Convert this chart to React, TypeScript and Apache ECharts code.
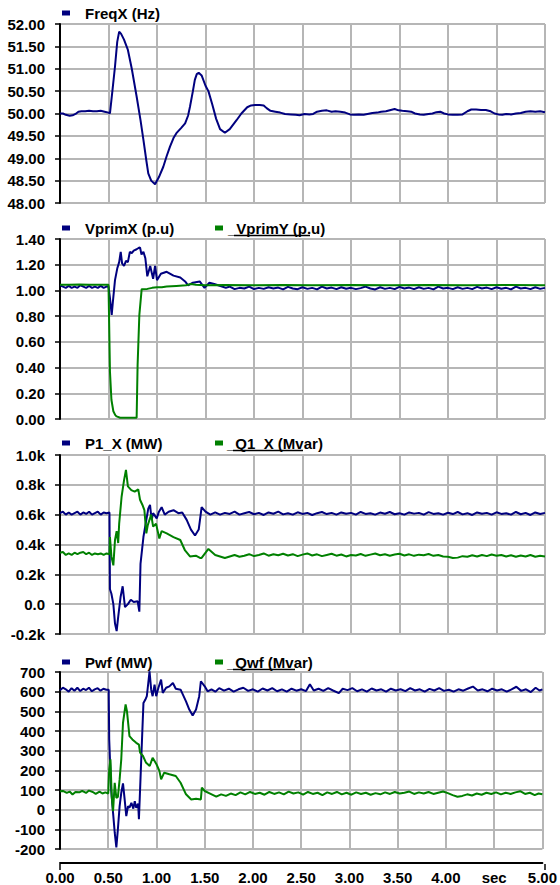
import React, { useEffect, useRef } from 'react';
import * as echarts from 'echarts';

// ---------- data (time in sec, value) ----------
const freqX: [number, number][] = [
  [0, 50.0], [0.03, 50.0], [0.06, 49.97], [0.1, 49.95], [0.13, 49.96], [0.16, 49.99], [0.19, 50.04], [0.22, 50.05], [0.26, 50.05], [0.3, 50.06], [0.34, 50.05], [0.38, 50.05], [0.42, 50.06], [0.46, 50.04], [0.5, 50.02], [0.515, 50.0],
  [0.54, 50.5], [0.567, 51.05], [0.59, 51.6], [0.61, 51.83], [0.63, 51.78], [0.66, 51.65], [0.7, 51.42], [0.74, 51.0], [0.79, 50.38], [0.83, 49.85], [0.86, 49.41], [0.89, 48.95], [0.91, 48.66], [0.94, 48.5], [0.98, 48.42],
  [1.02, 48.58], [1.065, 48.81], [1.1, 49.05], [1.134, 49.26], [1.17, 49.45], [1.2, 49.56], [1.25, 49.68], [1.29, 49.78], [1.32, 49.95], [1.34, 50.15], [1.37, 50.5], [1.39, 50.75], [1.41, 50.88], [1.43, 50.91], [1.46, 50.85], [1.5, 50.62], [1.53, 50.5], [1.57, 50.2], [1.61, 49.88], [1.65, 49.65], [1.7, 49.57], [1.75, 49.65], [1.82, 49.85], [1.87, 50.0], [1.93, 50.14], [1.97, 50.18], [2.01, 50.19], [2.06, 50.19], [2.1, 50.18], [2.13, 50.12], [2.17, 50.06], [2.22, 50.04], [2.27, 50.02],
  [2.32, 49.99], [2.38, 49.98], [2.43, 49.97], [2.47, 49.96], [2.52, 49.99], [2.57, 49.98], [2.61, 49.99], [2.65, 50.04], [2.7, 50.06], [2.75, 50.07], [2.8, 50.04], [2.84, 50.05], [2.89, 50.04], [2.94, 50.02], [2.99, 49.98], [3.03, 49.97], [3.08, 49.98], [3.13, 49.97], [3.17, 49.99], [3.22, 50.01], [3.27, 50.02], [3.31, 50.04], [3.36, 50.05], [3.41, 50.08], [3.45, 50.1], [3.49, 50.07], [3.53, 50.06], [3.58, 50.05], [3.62, 50.04], [3.66, 50.0], [3.71, 49.98], [3.75, 49.97], [3.8, 49.99], [3.84, 50.0], [3.88, 50.03], [3.92, 50.04], [3.96, 50.0], [4.0, 49.98], [4.05, 49.97], [4.1, 49.97], [4.15, 49.98], [4.2, 50.05], [4.24, 50.09], [4.29, 50.09], [4.34, 50.08], [4.39, 50.08], [4.44, 50.05], [4.48, 50.0], [4.52, 49.98], [4.56, 49.97], [4.6, 49.99], [4.65, 49.98], [4.7, 50.0], [4.75, 50.01], [4.8, 50.04], [4.85, 50.05], [4.9, 50.04], [4.95, 50.05], [5.0, 50.03],
];

const vprimX: [number, number][] = [
  [0, 1.04], [0.03, 1.03], [0.06, 1.02], [0.09, 1.035], [0.12, 1.02], [0.15, 1.03], [0.18, 1.02], [0.21, 1.04], [0.24, 1.03], [0.27, 1.02], [0.3, 1.035], [0.33, 1.02], [0.36, 1.03], [0.39, 1.02], [0.42, 1.035], [0.45, 1.02], [0.48, 1.03], [0.5, 1.03],
  [0.515, 0.94], [0.533, 0.81], [0.545, 0.91], [0.567, 1.08], [0.59, 1.17], [0.61, 1.22], [0.626, 1.3], [0.64, 1.21], [0.66, 1.19], [0.68, 1.23], [0.7, 1.22], [0.72, 1.3], [0.74, 1.29], [0.76, 1.31], [0.79, 1.32], [0.81, 1.33], [0.825, 1.335], [0.84, 1.28], [0.86, 1.3], [0.88, 1.25], [0.9, 1.11], [0.93, 1.19], [0.96, 1.09], [0.98, 1.19], [1.0, 1.08], [1.04, 1.13], [1.1, 1.145], [1.17, 1.115], [1.24, 1.1], [1.29, 1.07], [1.32, 1.04], [1.37, 1.06], [1.44, 1.07], [1.49, 1.02], [1.54, 1.06], [1.59, 1.05], [1.63, 1.04], [1.67, 1.03], [1.71, 1.02],
  [1.75, 1.03], [1.8, 1.01], [1.85, 1.02], [1.9, 1.015], [1.95, 1.03], [2.0, 1.01], [2.05, 1.02], [2.1, 1.012], [2.15, 1.025], [2.2, 1.015], [2.25, 1.022], [2.3, 1.008], [2.35, 1.028], [2.4, 1.015], [2.45, 1.01], [2.5, 1.025], [2.55, 1.012], [2.6, 1.02], [2.65, 1.008], [2.7, 1.03], [2.75, 1.015], [2.8, 1.022], [2.85, 1.01], [2.9, 1.025], [2.95, 1.013], [3.0, 1.02], [3.05, 1.01], [3.1, 1.018], [3.15, 1.03], [3.2, 1.015], [3.25, 1.008], [3.3, 1.025], [3.35, 1.012], [3.4, 1.02], [3.45, 1.01], [3.5, 1.028], [3.55, 1.015], [3.6, 1.022], [3.65, 1.01], [3.7, 1.025], [3.75, 1.012], [3.8, 1.02], [3.85, 1.008], [3.9, 1.03], [3.95, 1.015], [4.0, 1.02], [4.05, 1.01], [4.1, 1.025], [4.15, 1.012], [4.2, 1.02], [4.25, 1.01], [4.3, 1.028], [4.35, 1.015], [4.4, 1.022], [4.45, 1.01], [4.5, 1.025], [4.55, 1.013], [4.6, 1.02], [4.65, 1.008], [4.7, 1.03], [4.75, 1.015], [4.8, 1.02], [4.85, 1.01], [4.9, 1.025], [4.95, 1.012], [5.0, 1.02],
];

const vprimY: [number, number][] = [
  [0, 1.045], [0.1, 1.044], [0.2, 1.046], [0.3, 1.044], [0.4, 1.045], [0.5, 1.045],
  [0.515, 0.37], [0.53, 0.15], [0.55, 0.06], [0.57, 0.03], [0.584, 0.02], [0.62, 0.01], [0.7, 0.01], [0.79, 0.01], [0.8, 0.42], [0.818, 0.81], [0.842, 1.01],
  [0.9, 1.012], [0.95, 1.02], [1.0, 1.025], [1.05, 1.024], [1.1, 1.03], [1.2, 1.035], [1.3, 1.04], [1.35, 1.05], [1.4, 1.045], [1.5, 1.04],
  [1.7, 1.042], [2.0, 1.04], [2.3, 1.043], [2.6, 1.04], [3.0, 1.042], [3.4, 1.04], [3.8, 1.043], [4.2, 1.04], [4.6, 1.042], [5.0, 1.041],
];

const p1X: [number, number][] = [
  [0, 610], [0.03, 620], [0.06, 600], [0.09, 615], [0.12, 600], [0.15, 610], [0.18, 620], [0.21, 600], [0.24, 615], [0.27, 605], [0.3, 620], [0.33, 600], [0.36, 610], [0.39, 620], [0.42, 600], [0.45, 615], [0.48, 610], [0.51, 615],
  [0.515, 100], [0.53, 70], [0.55, 0], [0.567, -130], [0.584, -180], [0.6, -85], [0.625, 50], [0.646, 120], [0.67, -20], [0.7, 0], [0.73, 30], [0.76, 15], [0.8, 20], [0.818, -50], [0.83, 270], [0.86, 450], [0.89, 565], [0.91, 640], [0.928, 665], [0.945, 565], [0.96, 610], [0.997, 575], [1.02, 620], [1.048, 650], [1.08, 600], [1.12, 620], [1.17, 630], [1.22, 610], [1.26, 615], [1.306, 565], [1.35, 500], [1.392, 460], [1.43, 500], [1.46, 650], [1.5, 620], [1.55, 600],
  [1.6, 615], [1.65, 600], [1.7, 612], [1.75, 605], [1.8, 620], [1.85, 600], [1.9, 610], [1.95, 618], [2.0, 603], [2.05, 612], [2.1, 598], [2.15, 615], [2.2, 606], [2.25, 620], [2.3, 602], [2.35, 610], [2.4, 600], [2.45, 616], [2.5, 605], [2.55, 612], [2.6, 598], [2.65, 610], [2.7, 618], [2.75, 604], [2.8, 612], [2.85, 600], [2.9, 615], [2.95, 606], [3.0, 612], [3.05, 600], [3.1, 618], [3.15, 605], [3.2, 610], [3.25, 600], [3.3, 614], [3.35, 606], [3.4, 618], [3.45, 603], [3.5, 610], [3.55, 600], [3.6, 615], [3.65, 607], [3.7, 612], [3.75, 600], [3.8, 617], [3.85, 605], [3.9, 610], [3.95, 600], [4.0, 613], [4.05, 604], [4.1, 618], [4.15, 602], [4.2, 610], [4.25, 598], [4.3, 615], [4.35, 606], [4.4, 612], [4.45, 600], [4.5, 616], [4.55, 605], [4.6, 610], [4.65, 600], [4.7, 618], [4.75, 603], [4.8, 612], [4.85, 598], [4.9, 615], [4.95, 605], [5.0, 612],
];

const q1X: [number, number][] = [
  [0, 345], [0.03, 350], [0.06, 330], [0.09, 340], [0.12, 330], [0.15, 345], [0.18, 335], [0.21, 345], [0.24, 350], [0.27, 335], [0.3, 345], [0.33, 330], [0.36, 340], [0.39, 335], [0.42, 340], [0.45, 330], [0.48, 340], [0.51, 335],
  [0.515, 450], [0.53, 320], [0.55, 260], [0.567, 430], [0.584, 490], [0.6, 410], [0.61, 540], [0.635, 720], [0.66, 830], [0.68, 900], [0.7, 790], [0.735, 765], [0.77, 755], [0.807, 770], [0.825, 700], [0.85, 665], [0.87, 630], [0.89, 475], [0.905, 530], [0.94, 600], [0.96, 520], [0.99, 540], [1.024, 440], [1.048, 490], [1.1, 475], [1.17, 450], [1.24, 430], [1.289, 360], [1.34, 320], [1.4, 325], [1.443, 310], [1.46, 310], [1.53, 370], [1.6, 330], [1.7, 310],
  [1.75, 320], [1.8, 330], [1.85, 318], [1.9, 325], [1.95, 335], [2.0, 322], [2.05, 330], [2.1, 340], [2.15, 325], [2.2, 335], [2.25, 328], [2.3, 338], [2.35, 326], [2.4, 335], [2.45, 322], [2.5, 332], [2.55, 340], [2.6, 326], [2.65, 334], [2.7, 322], [2.75, 330], [2.8, 338], [2.85, 325], [2.9, 333], [2.95, 320], [3.0, 330], [3.05, 326], [3.1, 336], [3.15, 324], [3.2, 332], [3.25, 340], [3.3, 328], [3.35, 335], [3.4, 325], [3.45, 333], [3.5, 338], [3.55, 326], [3.6, 334], [3.65, 324], [3.7, 332], [3.75, 328], [3.8, 336], [3.85, 324], [3.9, 330], [3.95, 320], [4.0, 318], [4.05, 310], [4.1, 312], [4.15, 322], [4.2, 318], [4.25, 328], [4.3, 320], [4.35, 330], [4.4, 322], [4.45, 333], [4.5, 325], [4.55, 330], [4.6, 320], [4.65, 328], [4.7, 318], [4.75, 326], [4.8, 320], [4.85, 330], [4.9, 318], [4.95, 325], [5.0, 320],
];

const pwf: [number, number][] = [
  [0, 607], [0.03, 620], [0.06, 612], [0.09, 600], [0.12, 618], [0.15, 605], [0.18, 620], [0.21, 603], [0.24, 615], [0.27, 608], [0.3, 620], [0.33, 602], [0.36, 612], [0.39, 618], [0.42, 605], [0.45, 615], [0.48, 610], [0.505, 610],
  [0.51, 357], [0.53, 103], [0.55, -16], [0.567, -116], [0.584, -192], [0.6, -99], [0.618, 18], [0.635, 85], [0.653, 134], [0.67, 52], [0.687, -33], [0.705, 18], [0.72, 10], [0.74, 35], [0.76, 5], [0.775, 43], [0.79, 10], [0.81, 30], [0.818, -48], [0.83, 102], [0.85, 357], [0.865, 543], [0.885, 560], [0.9, 577], [0.915, 644], [0.928, 703], [0.945, 610], [0.96, 577], [0.98, 636], [0.997, 577], [1.02, 620], [1.048, 661], [1.065, 594], [1.1, 620], [1.134, 627], [1.17, 644], [1.2, 615], [1.25, 610], [1.306, 551], [1.34, 509], [1.375, 479], [1.41, 509], [1.443, 577], [1.46, 653], [1.5, 627], [1.53, 602],
  [1.57, 612], [1.61, 600], [1.65, 618], [1.7, 605], [1.75, 615], [1.8, 600], [1.85, 612], [1.9, 620], [1.95, 604], [2.0, 612], [2.05, 600], [2.1, 616], [2.15, 606], [2.2, 618], [2.25, 602], [2.3, 612], [2.35, 600], [2.4, 615], [2.45, 605], [2.5, 612], [2.55, 603], [2.59, 638], [2.63, 606], [2.68, 615], [2.73, 604], [2.78, 618], [2.83, 606], [2.89, 593], [2.93, 615], [2.98, 608], [3.03, 618], [3.08, 602], [3.13, 612], [3.18, 600], [3.23, 616], [3.28, 606], [3.33, 612], [3.38, 600], [3.43, 615], [3.48, 606], [3.53, 612], [3.58, 603], [3.63, 618], [3.68, 606], [3.73, 612], [3.78, 600], [3.83, 614], [3.88, 606], [3.93, 618], [3.98, 604], [4.03, 610], [4.08, 600], [4.13, 612], [4.18, 605], [4.23, 616], [4.28, 626], [4.33, 606], [4.38, 612], [4.43, 602], [4.48, 615], [4.53, 606], [4.58, 612], [4.63, 600], [4.68, 612], [4.73, 625], [4.78, 604], [4.83, 612], [4.88, 598], [4.93, 620], [4.97, 606], [5.0, 612],
];

const qwf: [number, number][] = [
  [0, 94], [0.03, 95], [0.07, 85], [0.1, 92], [0.13, 77], [0.16, 90], [0.2, 88], [0.23, 96], [0.27, 85], [0.3, 97], [0.34, 90], [0.37, 80], [0.41, 92], [0.44, 82], [0.47, 88], [0.5, 82],
  [0.51, 205], [0.523, 256], [0.536, 68], [0.55, -8], [0.567, 136], [0.584, 60], [0.6, 65], [0.618, 154], [0.635, 256], [0.653, 442], [0.67, 501], [0.68, 535], [0.694, 501], [0.72, 374], [0.75, 357], [0.79, 340], [0.818, 331], [0.83, 290], [0.86, 273], [0.89, 240], [0.93, 222], [0.96, 264], [1.0, 231], [1.03, 197], [1.048, 154], [1.08, 188], [1.134, 180], [1.2, 171], [1.25, 137], [1.306, 78], [1.36, 52], [1.41, 56], [1.46, 52], [1.47, 112], [1.5, 95], [1.55, 83], [1.62, 66],
  [1.67, 78], [1.72, 70], [1.77, 82], [1.82, 74], [1.87, 88], [1.92, 78], [1.97, 90], [2.02, 80], [2.07, 86], [2.12, 76], [2.17, 90], [2.22, 80], [2.27, 88], [2.32, 78], [2.37, 92], [2.42, 82], [2.47, 88], [2.52, 76], [2.57, 90], [2.62, 80], [2.67, 86], [2.72, 74], [2.77, 88], [2.82, 80], [2.87, 90], [2.92, 78], [2.97, 86], [3.02, 76], [3.07, 88], [3.12, 80], [3.17, 86], [3.22, 76], [3.27, 84], [3.32, 78], [3.37, 88], [3.42, 80], [3.47, 90], [3.52, 82], [3.57, 86], [3.62, 92], [3.67, 80], [3.72, 88], [3.77, 82], [3.82, 90], [3.87, 80], [3.92, 86], [3.97, 92], [4.02, 84], [4.07, 74], [4.12, 66], [4.17, 70], [4.22, 78], [4.27, 72], [4.32, 82], [4.37, 76], [4.42, 86], [4.47, 80], [4.52, 88], [4.57, 78], [4.62, 86], [4.67, 80], [4.72, 88], [4.77, 94], [4.82, 80], [4.87, 86], [4.92, 74], [4.96, 82], [5.0, 78],
];

const legendNames = ['FreqX (Hz)', 'VprimX (p.u)', '_VprimY (p.u)', 'P1_X (MW)', '_Q1_X (Mvar)', 'Pwf (MW)', '_Qwf (Mvar)'];

const NAVY = '#00007f';
const GREEN = '#008000';
const GRID_C = '#b6b6b6';
const FONT = "'Liberation Sans', Arial, sans-serif";

export default function App() {
  const ref = useRef<HTMLDivElement>(null);
  useEffect(() => {
    if (!ref.current) return;
    const chart = echarts.init(ref.current, undefined, { renderer: 'svg' });
    const grids = [
      { left: 60, right: 15, top: 24, height: 179 },
      { left: 60, right: 15, top: 239, height: 180 },
      { left: 60, right: 15, top: 455, height: 179 },
      { left: 60, right: 15, top: 672, height: 178 },
    ];
    const xAxes = grids.map((_, i) => ({
      type: 'value', gridIndex: i, min: 0, max: 5, interval: 0.5,
      offset: i === 3 ? 14 : 0,
      axisLine: { show: i === 3, onZero: false, lineStyle: { color: '#000', width: 2 } },
      axisTick: { show: false },
      axisLabel: {
        show: i === 3, color: '#000', fontFamily: FONT, fontWeight: 'bold', fontSize: 15, margin: 7,
        formatter: (v: number) => (Math.abs(v - 4.5) < 1e-6 ? 'sec' : v.toFixed(2)),
      },
      splitLine: { show: true, lineStyle: { color: GRID_C, width: 2 } },
    }));
    const yBase = {
      type: 'value',
      axisLine: { show: true, onZero: false, lineStyle: { color: '#000', width: 2 } },
      axisTick: { show: true, length: 5, lineStyle: { color: '#000', width: 1.5 } },
      splitLine: { show: true, lineStyle: { color: GRID_C, width: 2 } },
    };
    const lbl = { color: '#000', fontFamily: FONT, fontWeight: 'bold', fontSize: 15, margin: 15 };
    const yAxes = [
      { ...yBase, gridIndex: 0, min: 48, max: 52, interval: 0.5, axisLabel: { ...lbl, formatter: (v: number) => v.toFixed(2) } },
      { ...yBase, gridIndex: 1, min: 0, max: 1.4, interval: 0.2, axisLabel: { ...lbl, formatter: (v: number) => v.toFixed(2) } },
      { ...yBase, gridIndex: 2, min: -200, max: 1000, interval: 200, axisLabel: { ...lbl, formatter: (v: number) => (v === 0 ? '0.0' : (v / 1000).toFixed(1) + 'k') } },
      { ...yBase, gridIndex: 3, min: -200, max: 700, interval: 100, axisLabel: { ...lbl, formatter: (v: number) => String(v) } },
    ];
    const mk = (name: string, data: [number, number][], idx: number, color: string) => ({
      name, type: 'line', data, xAxisIndex: idx, yAxisIndex: idx, showSymbol: false, symbol: 'none',
      lineStyle: { color, width: 2 }, itemStyle: { color }, clip: true,
    });
    const txt = (t: string, x: number, y: number) => ({
      type: 'text', x, y, style: { text: t, fill: '#000', font: `bold 15px ${FONT}`, textVerticalAlign: 'middle' },
    });
    const sq = (x: number, y: number, c: string) => ({ type: 'rect', shape: { x, y: y - 2.5, width: 8, height: 5 }, style: { fill: c } });
    const uline = (x1: number, x2: number, y: number) => ({ type: 'line', shape: { x1, y1: y, x2, y2: y }, style: { stroke: '#000', lineWidth: 1.5 } });
    const legendRows = [13, 228, 443, 662];
    const graphic: any[] = [
      sq(62, legendRows[0], NAVY), txt(legendNames[0], 85, legendRows[0]),
      sq(62, legendRows[1], NAVY), txt(legendNames[1], 85, legendRows[1]),
      sq(215, legendRows[1], GREEN), txt(legendNames[2], 228, legendRows[1]), uline(234, 310, 235.5),
      sq(62, legendRows[2], NAVY), txt(legendNames[3], 85, legendRows[2]),
      sq(215, legendRows[2], GREEN), txt(legendNames[4], 227, legendRows[2]), uline(233, 303, 450.5),
      sq(62, legendRows[3], NAVY), txt(legendNames[5], 85, legendRows[3]),
      sq(215, legendRows[3], GREEN), txt(legendNames[6], 227, legendRows[3]), uline(233, 295, 669.5),
      { type: 'line', shape: { x1: 60, y1: 864, x2: 60, y2: 870 }, style: { stroke: '#000', lineWidth: 1.5 } },
      { type: 'line', shape: { x1: 545, y1: 864, x2: 545, y2: 870 }, style: { stroke: '#000', lineWidth: 1.5 } },
    ];
    chart.setOption({
      animation: false,
      backgroundColor: '#fff',
      grid: grids,
      xAxis: xAxes,
      yAxis: yAxes,
      series: [
        mk(legendNames[0], freqX, 0, NAVY),
        mk(legendNames[1], vprimX, 1, NAVY),
        mk(legendNames[2], vprimY, 1, GREEN),
        mk(legendNames[3], p1X, 2, NAVY),
        mk(legendNames[4], q1X, 2, GREEN),
        mk(legendNames[5], pwf, 3, NAVY),
        mk(legendNames[6], qwf, 3, GREEN),
      ],
      graphic,
    } as any);
    return () => chart.dispose();
  }, []);
  return <div ref={ref} style={{ position: 'absolute', left: 0, top: 0, width: 560, height: 885 }} />;
}
